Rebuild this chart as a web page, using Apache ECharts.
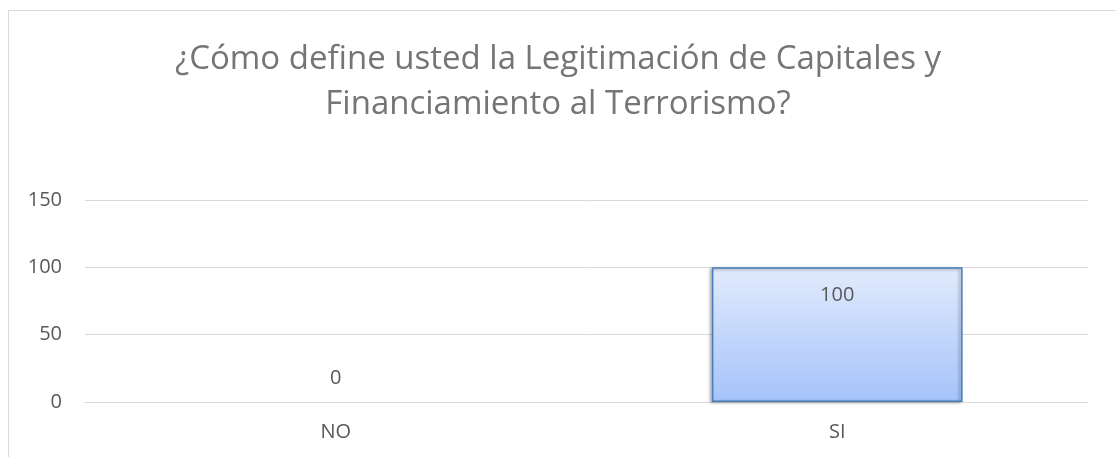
<!DOCTYPE html>
<html>
<head>
<meta charset="utf-8">
<script src="https://cdn.jsdelivr.net/npm/echarts@6/dist/echarts.min.js"></script>
<style>
  html, body { margin: 0; padding: 0; background: #fff; }
  #chart { width: 1116px; height: 457px; }
</style>
</head>
<body>
<div id="chart"></div>
<script>
var categories = ['NO', 'SI'];
var values = [0, 100];
var yTicks = [0, 50, 150];

var myChart = echarts.init(document.getElementById('chart'));

// barra de valor 0: sin borde ni sombra, etiqueta encima
var barData = values.map(function (v) {
  if (v === 0) {
    return {
      value: v,
      itemStyle: { borderWidth: 0, shadowBlur: 0, shadowOffsetX: 0, shadowOffsetY: 0, color: 'transparent' },
      label: { position: 'top', distance: 14 }
    };
  }
  return v;
});

var option = {
  animation: false,
  textStyle: { fontFamily: 'Open Sans' },
  title: {
    text: '¿Cómo define usted la Legitimación de Capitales y\nFinanciamiento al Terrorismo?',
    left: 'center',
    top: 32,
    textStyle: {
      color: '#757575',
      fontSize: 33,
      fontWeight: 'normal',
      lineHeight: 45,
      fontFamily: 'Open Sans'
    }
  },
  graphic: [{
    type: 'rect',
    shape: { x: 8.5, y: 10.5, width: 1120, height: 460 },
    style: { fill: 'none', stroke: '#d9d9d9', lineWidth: 1 },
    silent: true
  }],
  grid: { left: 85, right: 28, top: 200, bottom: 55, containLabel: false },
  xAxis: {
    type: 'category',
    data: categories,
    axisLine: { show: true, lineStyle: { color: '#d9d9d9', width: 1 } },
    axisTick: { show: false },
    axisLabel: { color: '#595959', fontSize: 20, margin: 20 }
  },
  yAxis: {
    type: 'value',
    min: yTicks[0],
    max: yTicks[2],
    interval: yTicks[1],
    axisLine: { show: false },
    axisTick: { show: false },
    axisLabel: { color: '#595959', fontSize: 20, margin: 23 },
    splitLine: { lineStyle: { color: '#d9d9d9', width: 1 } }
  },
  series: [{
    type: 'bar',
    data: barData,
    barWidth: '50%',
    itemStyle: {
      color: new echarts.graphic.LinearGradient(0, 0, 0, 1, [
        { offset: 0, color: '#e2ebfd' },
        { offset: 1, color: '#a5c3fa' }
      ]),
      borderColor: '#4a7ebb',
      borderWidth: 1.5,
      shadowColor: 'rgba(0,0,0,0.35)',
      shadowBlur: 3,
      shadowOffsetX: -2,
      shadowOffsetY: 1
    },
    label: {
      show: true,
      position: 'insideTop',
      distance: 18,
      color: '#595959',
      fontSize: 20
    }
  }]
};
option && myChart.setOption(option);
</script>
</body>
</html>
